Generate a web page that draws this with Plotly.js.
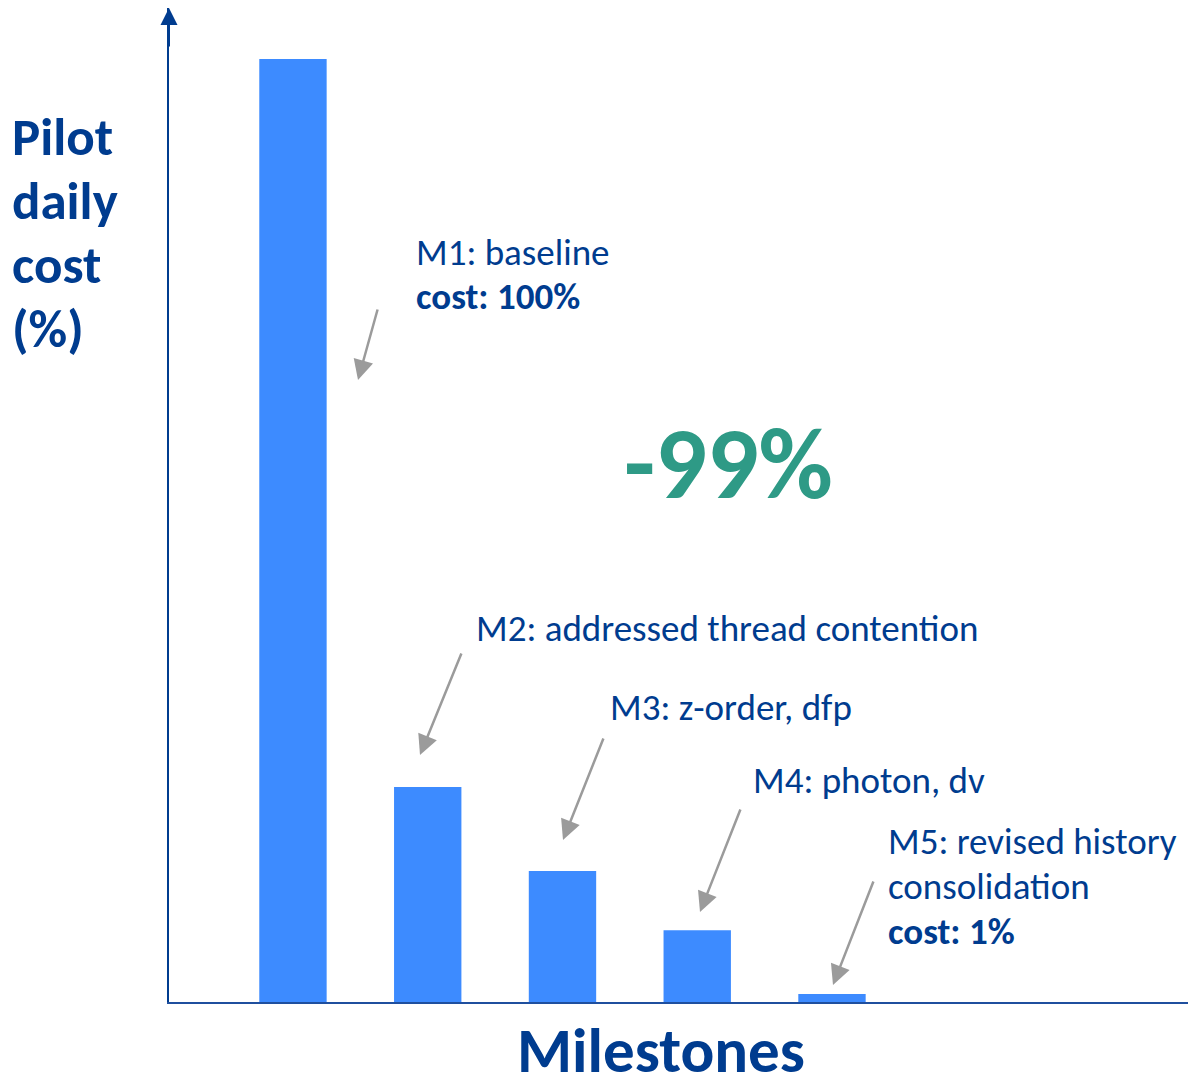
<!DOCTYPE html>
<html>
<head>
<meta charset="utf-8">
<script src="https://cdn.plot.ly/plotly-3.0.1.min.js"></script>
<style>html,body{margin:0;padding:0;background:#fff;}#chart{width:1188px;height:1091px;}</style>
</head>
<body>
<div id="chart"></div>
<script>
// ---- data ----
const milestones = ["M1", "M2", "M3", "M4", "M5"];
const costPct = [100, 22.8, 13.9, 7.6, 0.85];
const milestoneNotes = [
  ["M1: baseline", "<b>cost: 100%</b>"],
  ["M2: addressed thread contention"],
  ["M3: z-order, dfp"],
  ["M4: photon, dv"],
  ["M5: revised history", "consolidation", "<b>cost: 1%</b>"]
];
const reductionLabel = "-99%";
const yTitleLines = ["Pilot", "daily", "cost", "(%)"];
const xTitle = "Milestones";

// ---- style / layout ----
const W = 1188, H = 1091;
const M = {l: 169, r: 0, t: 8, b: 89};
const PW = W - M.l - M.r, PH = H - M.t - M.b;
const px = x => (x - M.l) / PW;
const py = y => (H - M.b - y) / PH;

const FONT = "Carlito, Calibri, Lato, 'Open Sans', sans-serif";
const BLUE = "#003C8F";
const BAR = "#3D8BFF";
const TEAL = "#2E9A86";
const GRAY = "#9B9B9B";

// note placement (pixels): text left x, first line centre y, arrow head, arrow tail
const notePos = [
  {tx: 414, ty: 252, hx: 358, hy: 380, sx: 378, sy: 308},
  {tx: 474, ty: 628, hx: 420, hy: 755, sx: 462, sy: 652},
  {tx: 608, ty: 707, hx: 563, hy: 840, sx: 604, sy: 737},
  {tx: 751, ty: 780, hx: 700, hy: 912, sx: 741, sy: 808},
  {tx: 886, ty: 841, hx: 833, hy: 985, sx: 874, sy: 880}
];
const NOTE_LINE = 45;

const annotations = [];
milestoneNotes.forEach((lines, i) => {
  const p = notePos[i];
  lines.forEach((t, k) => {
    annotations.push({
      xref: "paper", yref: "paper", x: px(p.tx), y: py(p.ty + k * NOTE_LINE),
      xanchor: "left", yanchor: "middle", align: "left",
      text: t, showarrow: false,
      font: {family: FONT, size: 37, color: BLUE}
    });
  });
  annotations.push({
    xref: "paper", yref: "paper", x: px(p.hx), y: py(p.hy),
    ax: p.sx - p.hx, ay: p.sy - p.hy, axref: "pixel", ayref: "pixel",
    text: "", showarrow: true, arrowhead: 2, arrowsize: 1.6,
    arrowwidth: 2.5, arrowcolor: GRAY
  });
});
annotations.push({
  xref: "paper", yref: "paper", x: px(728), y: py(463),
  xanchor: "center", yanchor: "middle", text: "<b>" + reductionLabel + "</b>",
  showarrow: false, font: {family: FONT, size: 102, color: TEAL}
});
yTitleLines.forEach((t, k) => {
  annotations.push({
    xref: "paper", yref: "paper", x: px(10), y: py(137 + k * 64),
    xanchor: "left", yanchor: "middle", align: "left",
    text: "<b>" + t + "</b>", showarrow: false,
    font: {family: FONT, size: 53, color: BLUE}
  });
});
annotations.push({
  xref: "paper", yref: "paper", x: px(661), y: py(1050),
  xanchor: "center", yanchor: "middle",
  text: "<b>" + xTitle + "</b>", showarrow: false,
  font: {family: FONT, size: 63, color: BLUE}
});
// y-axis arrow head
annotations.push({
  xref: "paper", yref: "paper", x: 0, y: 1,
  ax: 0, ay: 40, axref: "pixel", ayref: "pixel",
  text: "", showarrow: true, arrowhead: 2, arrowsize: 1.7,
  arrowwidth: 2, arrowcolor: BLUE
});

const trace = {
  type: "bar",
  x: milestones,
  y: costPct,
  width: 0.5,
  marker: {color: BAR},
  hoverinfo: "x+y"
};

const layout = {
  width: W, height: H,
  margin: M,
  paper_bgcolor: "#fff", plot_bgcolor: "#fff",
  showlegend: false,
  xaxis: {
    range: [-0.92, 6.642],
    showticklabels: false, ticks: "", showgrid: false, zeroline: false,
    showline: true, linecolor: "#1F4F9E", linewidth: 2
  },
  yaxis: {
    range: [0, 105.4],
    showticklabels: false, ticks: "", showgrid: false, zeroline: false,
    showline: true, linecolor: BLUE, linewidth: 2
  },
  annotations: annotations
};

Plotly.newPlot("chart", [trace], layout, {staticPlot: true, displayModeBar: false});
</script>
</body>
</html>
